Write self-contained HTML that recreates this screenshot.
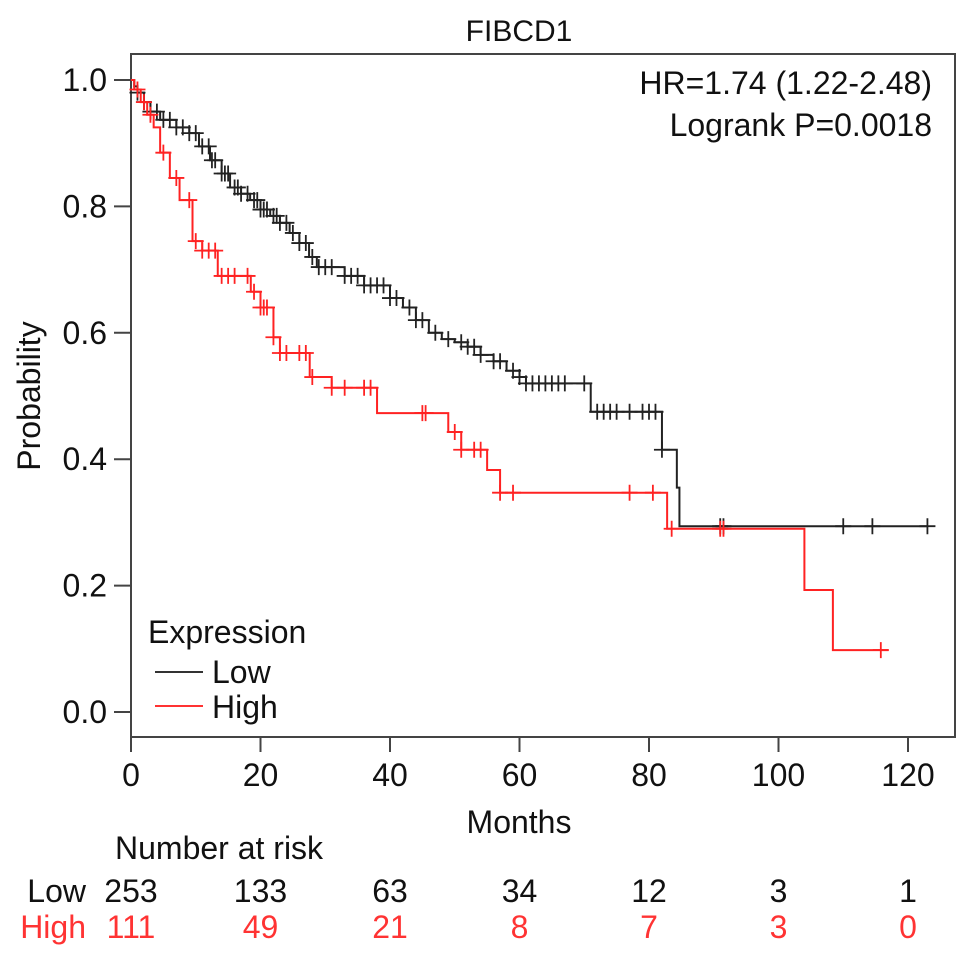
<!DOCTYPE html>
<html><head><meta charset="utf-8"><style>
html,body{margin:0;padding:0;background:#fff;}
svg{display:block;font-family:"Liberation Sans",Arial,sans-serif;}
</style></head><body>
<svg id="chart" width="969" height="960" viewBox="0 0 969 960" xmlns="http://www.w3.org/2000/svg">
<text x="519" y="41" font-size="30" text-anchor="middle" fill="#111">FIBCD1</text>
<rect x="131" y="54" width="824" height="683" fill="none" stroke="#444" stroke-width="2"/>
<g id="yaxis"></g>
<g id="xaxis"></g>
<text transform="translate(40,396) rotate(-90)" font-size="32" text-anchor="middle" fill="#111">Probability</text>
<text x="519" y="833" font-size="32" text-anchor="middle" fill="#111">Months</text>
<text x="932" y="94" font-size="32" text-anchor="end" fill="#111">HR=1.74 (1.22-2.48)</text>
<text x="932" y="136" font-size="32" text-anchor="end" fill="#111">Logrank P=0.0018</text>
<g>
<text x="148" y="643" font-size="32" fill="#111">Expression</text>
<line x1="155" y1="672" x2="203" y2="672" stroke="#333" stroke-width="2"/>
<text x="212" y="683" font-size="32" fill="#111">Low</text>
<line x1="155" y1="706" x2="203" y2="706" stroke="#f33" stroke-width="2"/>
<text x="212" y="718" font-size="32" fill="#111">High</text>
</g>
<g id="curves"></g>
<text x="115" y="859" font-size="32" fill="#111">Number at risk</text>
<g id="risk"></g>
</svg>
<script>
const yTicks=[0,0.2,0.4,0.6,0.8,1.0];
const yTickLabels=["0.0","0.2","0.4","0.6","0.8","1.0"];
const xTicks=[0,20,40,60,80,100,120];
const xTickLabels=["0","20","40","60","80","100","120"];
const lowTimes=[0,0.5,1,2,3,4.5,7,9,10.5,12.2,14,15.3,17,18.4,20,21.5,23,24.5,26,27.5,28.7,33,36,40,42,44,46,48,50,52,54,56,58,60,61,71,82,84.3,84.7,123];
const lowSurv=[1,0.99,0.98,0.965,0.95,0.937,0.925,0.916,0.895,0.873,0.852,0.83,0.82,0.81,0.795,0.785,0.774,0.758,0.742,0.72,0.704,0.69,0.675,0.655,0.64,0.62,0.60,0.59,0.585,0.578,0.565,0.555,0.54,0.53,0.52,0.475,0.415,0.355,0.294,0.294];
const lowCensor=[1,2,3,4,5,6,7,8,9,10,11,12,12.5,13,14,14.5,15,16,16.5,17,18,19,19.5,20,20.5,21,22,22.5,23,24,25,26,27,28,29,30,31,33,34,35,36,37,38,39,40,41,43,44,45,47,49,51,52,53,54,56,57,59,60,61,62,63,64,65,66,67,70,72,73,74,75,77,79,80,81,82,91,91.5,110,114.5,123];
const highTimes=[0,0.5,1.5,2.5,3.5,4.5,6,7.5,9.5,11,13.4,18.5,20,22,23,27.6,31,38,49,51,55,57,82.8,104,108.4,117];
const highSurv=[1,0.985,0.965,0.945,0.925,0.885,0.845,0.81,0.745,0.73,0.69,0.665,0.64,0.593,0.568,0.53,0.513,0.473,0.443,0.415,0.383,0.347,0.29,0.193,0.098,0.098];
const highCensor=[1,2,3,5,7,9,10,11,12,13,14,15,16,18,19,20,20.5,21,22,23,24,26,27,28,31,33,36,37,45,45.5,50,51,53,54,57,59,77,80.6,83.5,91,91.5,115.8];
const riskLow=[253,133,63,34,12,3,1];
const riskHigh=[111,49,21,8,7,3,0];

const NS="http://www.w3.org/2000/svg";
const X=m=>131+m*6.475;
const Y=v=>712-v*632;
function mk(tag,attrs,parent,text){const e=document.createElementNS(NS,tag);for(const k in attrs)e.setAttribute(k,attrs[k]);if(text!==undefined)e.textContent=text;parent.appendChild(e);return e;}
const ya=document.getElementById('yaxis'),xa=document.getElementById('xaxis');
yTicks.forEach((v,i)=>{
  const l=mk('line',{x1:114,x2:131,y1:Y(v),y2:Y(v),stroke:'#444','stroke-width':2},ya);
  
  
  const t=mk('text',{x:107,y:Y(v)+11,'font-size':32,'text-anchor':'end',fill:'#111'},ya,yTickLabels[i]);
  
  
});
xTicks.forEach((m,i)=>{
  const l=mk('line',{x1:X(m),x2:X(m),y1:737,y2:752,stroke:'#444','stroke-width':2},xa);
  
  
  const t=mk('text',{x:X(m),y:786,'font-size':32,'text-anchor':'middle',fill:'#111'},xa,xTickLabels[i]);
  
  
});
function survAt(times,surv,t){let s=surv[0];for(let i=0;i<times.length;i++){if(times[i]<=t)s=surv[i];else break;}return s;}
const cg=document.getElementById('curves');
function drawCurve(times,surv,cens,color,name){
  let d='M'+X(times[0])+','+Y(surv[0]);
  for(let i=1;i<times.length;i++){d+=' H'+X(times[i])+' V'+Y(surv[i]);}
  const p=mk('path',{d:d,fill:'none',stroke:color,'stroke-width':2},cg);
  
  
  cens.forEach(t=>{
    const x=X(t),y=Y(survAt(times,surv,t));
    const c=mk('path',{d:`M${x-8},${y}H${x+8}M${x},${y-8}V${y+8}`,stroke:color,'stroke-width':1.8,fill:'none'},cg);
    
    
  });
}
drawCurve(lowTimes,lowSurv,lowCensor,'#222','low');
drawCurve(highTimes,highSurv,highCensor,'#f22','high');
const rg=document.getElementById('risk');
let lb=mk('text',{x:86,y:902,'font-size':32,'text-anchor':'end',fill:'#111'},rg,'Low');


lb=mk('text',{x:86,y:938,'font-size':32,'text-anchor':'end',fill:'#f33'},rg,'High');


xTicks.forEach((m,i)=>{
  const a=mk('text',{x:X(m),y:902,'font-size':32,'text-anchor':'middle',fill:'#111'},rg,String(riskLow[i]));
  
  
  const b=mk('text',{x:X(m),y:938,'font-size':32,'text-anchor':'middle',fill:'#f33'},rg,String(riskHigh[i]));
  
  
});
</script>
</body></html>
